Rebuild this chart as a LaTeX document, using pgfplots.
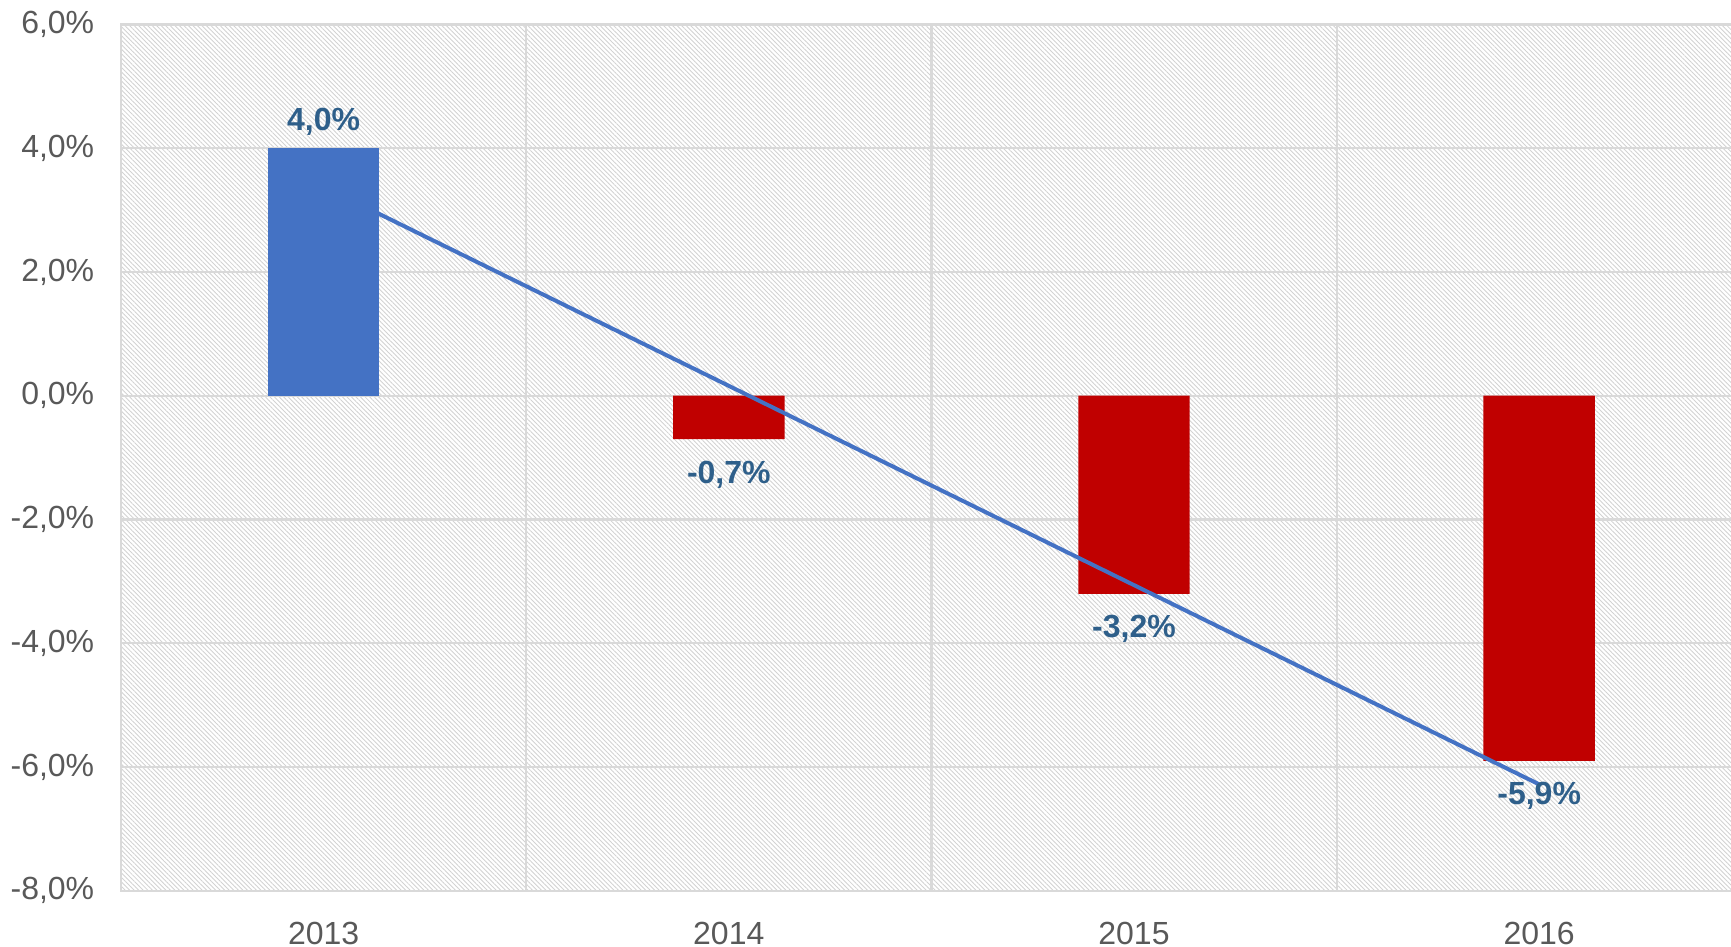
\documentclass[border=0pt]{standalone}
\usepackage{pgfplots}
\pgfplotsset{compat=1.18}
\usetikzlibrary{patterns.meta}
\usepackage{fontspec}
\setmainfont{Liberation Sans}
\definecolor{barblue}{HTML}{4472C4}
\definecolor{barred}{HTML}{C00000}
\definecolor{lblblue}{HTML}{2E5F8A}
\definecolor{tickgray}{HTML}{595959}
\definecolor{gridgray}{HTML}{D9D9D9}
\begin{document}
\begin{tikzpicture}
\begin{axis}[
  scale only axis, width=405.2pt, height=216.6pt,
  xmin=-0.5, xmax=3.5, ymin=-8, ymax=6,
  xtick={0,1,2,3}, xticklabels={2013,2014,2015,2016},
  minor xtick={0.5,1.5,2.5},
  ytick={-8,-6,...,6},
  ymajorgrids, xminorgrids,
  major grid style={draw=gridgray, line width=0.55pt},
  minor grid style={draw=gridgray, line width=0.55pt},
  axis line style={draw=gridgray, line width=0.55pt},
  tick style={draw=none},
  /pgf/number format/assume math mode=true,
  tick label style={font=\fontsize{8}{9}\selectfont, text=tickgray, inner sep=0pt},
  yticklabel={\pgfmathprintnumber[fixed,fixed zerofill,precision=1,use comma]{\tick}\%},
  yticklabel style={xshift=-6.5pt},
  xticklabel style={yshift=-7.6pt},
  axis background/.style={pattern={Lines[angle=-45,distance=0.8pt,line width=0.22pt]}, pattern color=gray!35},
]
\addplot[ybar, bar width=0.275, bar shift=0pt, fill=barred, draw=none,
  point meta=explicit symbolic, nodes near coords,
  nodes near coords style={anchor=north, yshift=-5.2pt, font=\bfseries\fontsize{8}{9}\selectfont, text=lblblue, inner sep=0pt}]
  coordinates {(1,-0.7) [-0,7\%] (2,-3.2) [-3,2\%] (3,-5.9) [-5,9\%]};
\addplot[barblue, line width=1pt, no marks] coordinates {(0,3.38) (3,-6.28)};
\addplot[ybar, bar width=0.275, bar shift=0pt, fill=barblue, draw=none,
  point meta=explicit symbolic, nodes near coords,
  nodes near coords style={anchor=south, yshift=3pt, font=\bfseries\fontsize{8}{9}\selectfont, text=lblblue, inner sep=0pt}]
  coordinates {(0,4.0) [4,0\%]};
\end{axis}
\pgfresetboundingbox
\useasboundingbox (-30.25pt,-13.8pt) rectangle (402.5pt,222.7pt);
\end{tikzpicture}
\end{document}
